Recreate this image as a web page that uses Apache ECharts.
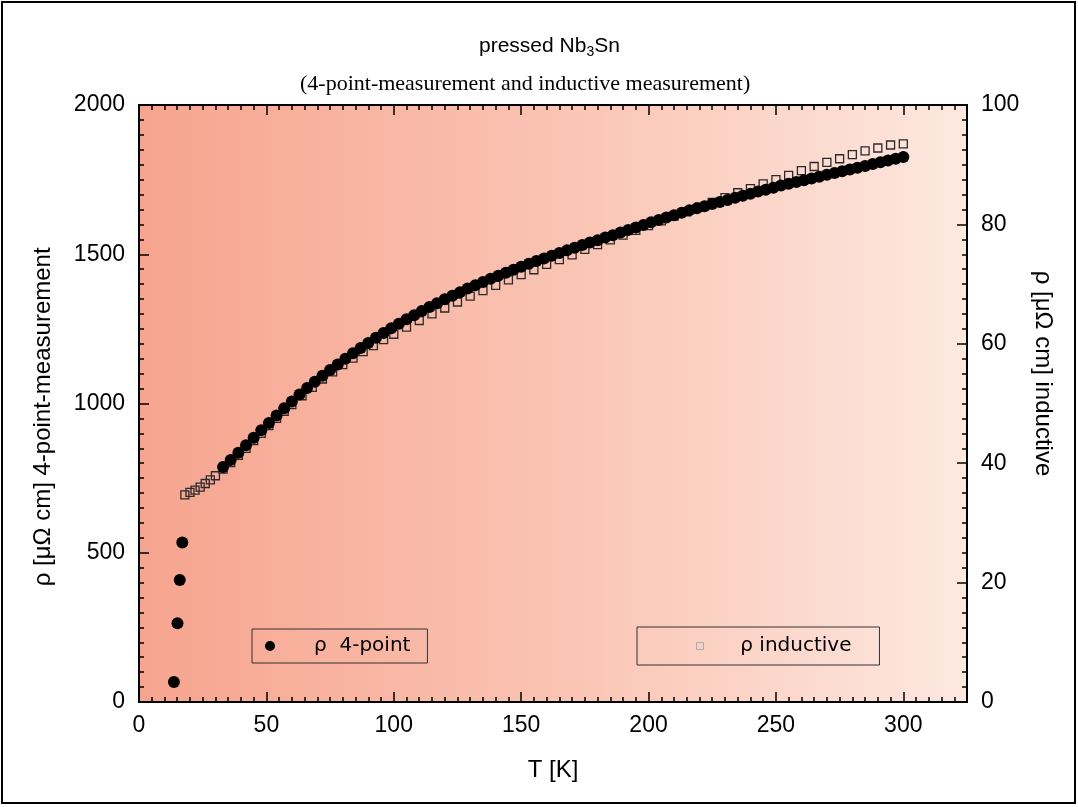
<!DOCTYPE html>
<html>
<head>
<meta charset="utf-8">
<script src="https://cdn.jsdelivr.net/npm/echarts@6/dist/echarts.min.js"></script>
<style>
    body{margin:0;background:#fff;}
    #main{width:1078px;height:807px;}
</style>
</head>
<body>
<div id="main"></div>
<script>
// 4-point measurement, left axis (µΩ cm)
var fourPtT = [13.7, 15.1, 16.0, 17.0,
    33, 36, 39, 42, 45, 48, 51, 54, 57, 60, 63, 66, 69, 72, 75, 78, 81, 84, 87, 90,
    93, 96, 99, 102, 105, 108, 111, 114, 117, 120, 123, 126, 129, 132, 135, 138, 141, 144,
    147, 150, 153, 156, 159, 162, 165, 168, 171, 174, 177, 180, 183, 186, 189, 192, 195,
    198, 201, 204, 207, 210, 213, 216, 219, 222, 225, 228, 231, 234, 237, 240, 243, 246,
    249, 252, 255, 258, 261, 264, 267, 270, 273, 276, 279, 282, 285, 288, 291, 294, 297, 300];
var fourPtRho = [67, 264, 409, 534,
    787, 811, 835, 860, 885, 910, 935, 960, 984, 1007, 1030, 1052, 1073, 1093, 1112, 1131, 1150, 1168, 1186, 1203,
    1220, 1236, 1252, 1267, 1282, 1296, 1310, 1323, 1336, 1349, 1361, 1373, 1385, 1396, 1407, 1418, 1428, 1438,
    1448, 1458, 1468, 1477, 1486, 1495, 1504, 1513, 1522, 1531, 1539, 1547, 1556, 1564, 1573, 1581, 1590,
    1598, 1607, 1615, 1623, 1631, 1639, 1647, 1654, 1661, 1668, 1675, 1682, 1689, 1696, 1703, 1710, 1716,
    1723, 1730, 1736, 1742, 1748, 1754, 1760, 1766, 1772, 1778, 1784, 1790, 1796, 1802, 1808, 1814, 1820, 1826];

// inductive measurement, right axis (µΩ cm)
var indT = [18, 20, 22, 24, 26, 28, 30, 33, 36, 39, 42, 45, 48, 51, 54, 57, 60, 64, 68, 72, 76, 80,
    84, 88, 92, 96, 100, 105, 110, 115, 120, 125, 130, 135, 140, 145, 150, 155, 160, 165, 170,
    175, 180, 185, 190, 195, 200, 205, 210, 215, 220, 225, 230, 235, 240, 245, 250, 255, 260,
    265, 270, 275, 280, 285, 290, 295, 300];
var indRho = [34.7, 35.1, 35.5, 36.0, 36.6, 37.2, 37.9, 39.0, 40.1, 41.3, 42.5, 43.8, 45.0, 46.3, 47.5, 48.7, 49.8, 51.3, 52.7, 54.1, 55.3, 56.5,
    57.6, 58.7, 59.7, 60.7, 61.6, 62.8, 63.9, 65.0, 66.0, 67.0, 68.0, 68.9, 69.8, 70.7, 71.6, 72.4, 73.3, 74.1, 74.9,
    75.8, 76.6, 77.4, 78.2, 79.0, 79.8, 80.6, 81.4, 82.1, 82.9, 83.7, 84.5, 85.3, 86.0, 86.8, 87.5, 88.2, 89.0,
    89.7, 90.4, 91.0, 91.7, 92.3, 92.8, 93.3, 93.5];

var name4pt = '   ρ  4-point';
var nameInd = 'ρ inductive';

function pairs(xs, ys) {
    var out = [];
    for (var i = 0; i < xs.length; i++) {
        out.push([xs[i], ys[i]]);
    }
    return out;
}

var nameFont = {fontFamily: 'Liberation Sans', fontSize: 24, color: '#000'};
var tickLine = {color: '#000', width: 1.5};
var plain = function (v) { return String(v); };

// shared settings for the mirrored axes
function xAx(pos, labels) {
    return {
        type: 'value', position: pos, min: 0, max: 325, interval: 50,
        axisLine: {show: true, onZero: false, lineStyle: {color: '#000', width: 2}},
        axisTick: {show: true, inside: true, length: 10, lineStyle: tickLine},
        minorTick: {show: true, splitNumber: 10, length: 5, lineStyle: tickLine},
        axisLabel: {show: labels, margin: 12, showMaxLabel: false, formatter: plain,
            fontFamily: 'Liberation Sans', fontSize: 23, color: '#000'},
        splitLine: {show: false}
    };
}

var chart = echarts.init(document.getElementById('main'));
var option = {
    animation: false,
    backgroundColor: '#fff',
    title: [{
        text: '{a|pressed Nb}{s|3}{a|Sn}',
        left: 474, top: 28,
        textStyle: {
            rich: {
                a: {fontFamily: 'Liberation Sans', fontSize: 21, fontWeight: 'normal', color: '#000'},
                s: {fontFamily: 'Liberation Sans', fontSize: 14, fontWeight: 'normal', color: '#000', padding: [12, 0, 0, 0]}
            }
        }
    }, {
        text: '(4-point-measurement and inductive measurement)',
        left: 295, top: 68,
        textStyle: {fontFamily: 'Liberation Serif', fontSize: 22, fontWeight: 'normal', color: '#000'}
    }],
    legend: [{
        data: [name4pt],
        left: 252, top: 629,
        itemWidth: 40, itemHeight: 10,
        padding: [7, 17, 7, 13],
        borderColor: '#333', borderWidth: 1, borderRadius: 0,
        icon: 'circle',
        itemStyle: {color: '#000', opacity: 1},
        textStyle: {fontFamily: 'DejaVu Sans', fontSize: 20, color: '#000'}
    }, {
        data: [nameInd],
        left: 637, top: 627,
        itemWidth: 7, itemHeight: 7,
        padding: [9, 28, 9, 59],
        borderColor: '#333', borderWidth: 1, borderRadius: 0,
        icon: 'rect',
        itemStyle: {color: 'transparent', borderColor: '#aaa', borderWidth: 1},
        formatter: function (n) { return '     ' + n; },
        textStyle: {fontFamily: 'DejaVu Sans', fontSize: 20, color: '#000'}
    }],
    grid: {
        left: 139, right: 111, top: 105, bottom: 105,
        show: true, borderColor: '#000', borderWidth: 2,
        backgroundColor: {
            type: 'linear', x: 0, y: 0, x2: 1, y2: 0,
            colorStops: [
                {offset: 0, color: '#F6A48F'},
                {offset: 0.5, color: '#FAC3B2'},
                {offset: 1, color: '#FDE8E0'}
            ]
        }
    },
    xAxis: [
        Object.assign(xAx('bottom', true), {
            name: 'T [K]', nameLocation: 'middle', nameGap: 56,
            nameTextStyle: nameFont
        }),
        xAx('top', false)
    ],
    yAxis: [{
        type: 'value', position: 'left', min: 0, max: 2000, interval: 500,
        name: 'ρ [μΩ cm] 4-point-measurement    ', nameLocation: 'middle', nameGap: 84,
        nameTextStyle: nameFont,
        axisLine: {show: true, onZero: false, lineStyle: {color: '#000', width: 2}},
        axisTick: {show: true, inside: true, length: 10, lineStyle: tickLine},
        minorTick: {show: true, splitNumber: 10, length: 5, lineStyle: tickLine},
        axisLabel: {margin: 14, formatter: plain, fontFamily: 'Liberation Sans', fontSize: 23, color: '#000'},
        splitLine: {show: false}
    }, {
        type: 'value', position: 'right', min: 0, max: 100, interval: 20,
        name: 'ρ [μΩ cm] inductive         ', nameLocation: 'middle', nameGap: 60, nameRotate: -90,
        nameTextStyle: nameFont,
        axisLine: {show: true, onZero: false, lineStyle: {color: '#000', width: 2}},
        axisTick: {show: true, inside: true, length: 10, lineStyle: tickLine},
        minorTick: {show: true, splitNumber: 8, length: 5, lineStyle: tickLine},
        axisLabel: {margin: 14, formatter: plain, fontFamily: 'Liberation Sans', fontSize: 23, color: '#000'},
        splitLine: {show: false}
    }],
    series: [{
        name: nameInd,
        type: 'scatter',
        xAxisIndex: 0, yAxisIndex: 1,
        symbol: 'rect', symbolSize: 8,
        itemStyle: {color: 'transparent', borderColor: '#2a2a2a', borderWidth: 1.3, opacity: 1},
        data: pairs(indT, indRho)
    }, {
        name: name4pt,
        type: 'scatter',
        xAxisIndex: 0, yAxisIndex: 0,
        symbol: 'circle', symbolSize: 12,
        itemStyle: {color: '#000', opacity: 1},
        data: pairs(fourPtT, fourPtRho)
    }],
    // outer frame of the figure
    graphic: [{
        type: 'rect',
        shape: {x: 2, y: 2, width: 1073, height: 801},
        style: {fill: 'none', stroke: '#000', lineWidth: 2},
        silent: true
    }]
};
chart.setOption(option);
</script>
</body>
</html>
